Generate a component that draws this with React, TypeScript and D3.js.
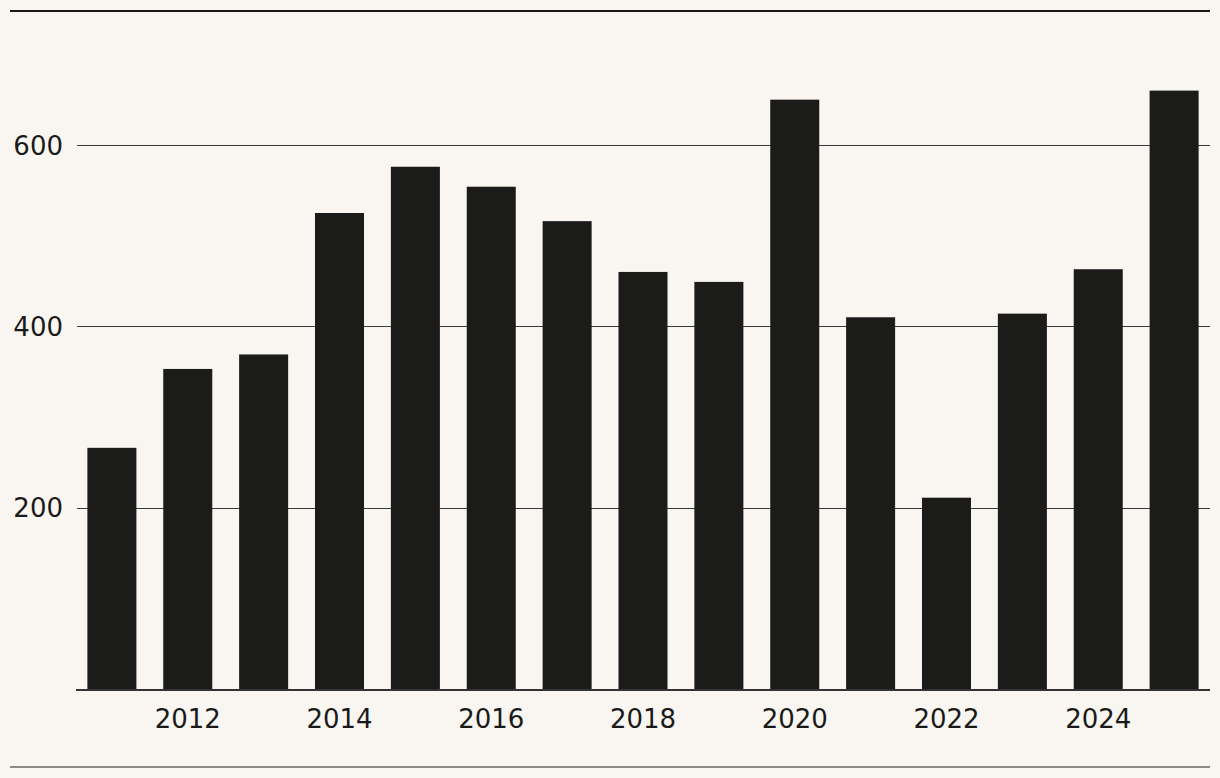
import React from "react";
import * as d3 from "d3";

const years = [2011, 2012, 2013, 2014, 2015, 2016, 2017, 2018, 2019, 2020, 2021, 2022, 2023, 2024, 2025];
const values = [266, 353, 369, 525, 576, 554, 516, 460, 449, 650, 410, 211, 414, 463, 660];
const yTicks = [200, 400, 600];
const xTickYears = [2012, 2014, 2016, 2018, 2020, 2022, 2024];

const W = 1220;
const H = 778;
const FONT = "'DejaVu Sans', sans-serif";

export default function App() {
  const x = d3
    .scaleBand<number>()
    .domain(years)
    .range([76, 1210])
    .paddingInner(0.354)
    .paddingOuter(0.15);
  const y = d3.scaleLinear().domain([0, 600]).range([689, 145]);

  return (
    <svg
      width={W}
      height={H}
      style={{ position: "absolute", left: 0, top: 0, background: "#f9f6f1" }}
    >
      <rect x={0} y={0} width={W} height={H} fill="#f9f6f1" />
      <line x1={10} x2={1210} y1={11} y2={11} stroke="#1a1a1a" strokeWidth={2} />
      {yTicks.map((t) => (
        <g key={t}>
          <line
            x1={77}
            x2={1210}
            y1={Math.round(y(t)) + 0.5}
            y2={Math.round(y(t)) + 0.5}
            stroke="#3a3a3a"
            strokeWidth={1}
          />
          <text
            x={63}
            y={y(t) + 9.5}
            textAnchor="end"
            fontFamily={FONT}
            fontSize={26}
            fill="#1a1a1a"
          >
            {t}
          </text>
        </g>
      ))}
      {years.map((yr, i) => (
        <rect
          key={yr}
          x={x(yr)}
          y={y(values[i])}
          width={x.bandwidth()}
          height={y(0) - y(values[i])}
          fill="#1b1b1a"
        />
      ))}
      <line x1={76} x2={1210} y1={690} y2={690} stroke="#333" strokeWidth={2} />
      {xTickYears.map((yr) => (
        <text
          key={yr}
          x={(x(yr) as number) + x.bandwidth() / 2}
          y={728}
          textAnchor="middle"
          fontFamily={FONT}
          fontSize={26}
          fill="#1a1a1a"
        >
          {yr}
        </text>
      ))}
      <line x1={10} x2={1210} y1={767} y2={767} stroke="#8a8a88" strokeWidth={2} />
    </svg>
  );
}
